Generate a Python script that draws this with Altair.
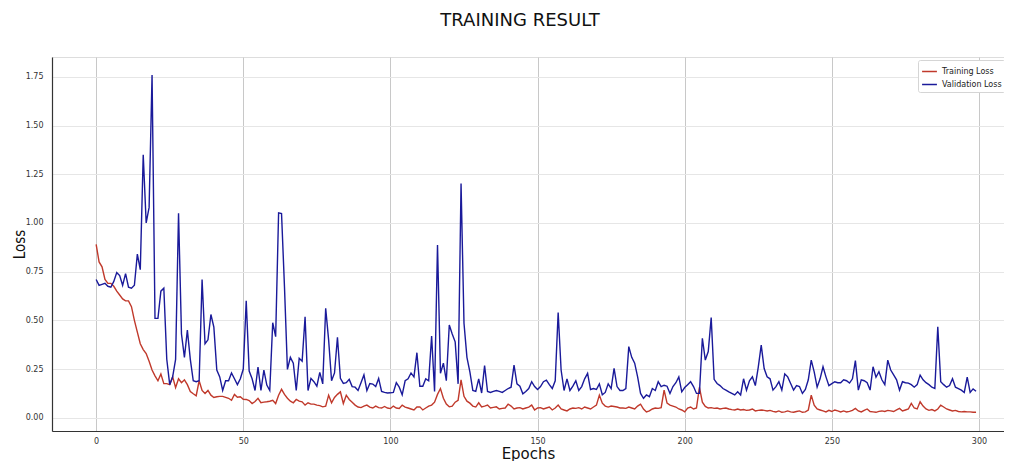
import altair as alt
import pandas as pd

epochs = list(range(300))

train_loss = [
    0.89, 0.80, 0.775, 0.71, 0.69, 0.69, 0.675, 0.65, 0.63, 0.61,
    0.60, 0.60, 0.57, 0.50, 0.44, 0.38, 0.35, 0.33, 0.29, 0.245,
    0.215, 0.19, 0.225, 0.175, 0.175, 0.17, 0.21, 0.155, 0.20, 0.18,
    0.195, 0.17, 0.135, 0.123, 0.113, 0.19, 0.14, 0.125, 0.14, 0.116,
    0.104, 0.108, 0.11, 0.11, 0.105, 0.10, 0.09, 0.12, 0.105, 0.108,
    0.095, 0.094, 0.088, 0.073, 0.083, 0.10, 0.077, 0.08, 0.082, 0.085,
    0.09, 0.073, 0.116, 0.146, 0.12, 0.10, 0.085, 0.077, 0.094, 0.085,
    0.082, 0.065, 0.077, 0.07, 0.07, 0.065, 0.062, 0.056, 0.06, 0.116,
    0.077, 0.104, 0.12, 0.133, 0.073, 0.116, 0.094, 0.08, 0.065, 0.055,
    0.052, 0.06, 0.065, 0.055, 0.05, 0.06, 0.052, 0.05, 0.058, 0.05,
    0.047, 0.06, 0.05, 0.048, 0.065, 0.055, 0.05, 0.045, 0.04, 0.055,
    0.056, 0.04, 0.05, 0.06, 0.065, 0.08, 0.12, 0.15, 0.10, 0.07,
    0.056, 0.06, 0.08, 0.09, 0.194, 0.11, 0.085, 0.075, 0.06, 0.055,
    0.077, 0.056, 0.06, 0.065, 0.05, 0.053, 0.056, 0.045, 0.048, 0.05,
    0.07, 0.06, 0.045, 0.05, 0.052, 0.045, 0.05, 0.055, 0.065, 0.04,
    0.05, 0.052, 0.045, 0.05, 0.055, 0.04, 0.05, 0.065, 0.045, 0.04,
    0.035, 0.045, 0.05, 0.048, 0.052, 0.045, 0.055, 0.05, 0.045, 0.055,
    0.065, 0.116, 0.075, 0.06, 0.055, 0.06, 0.058, 0.055, 0.05, 0.05,
    0.048, 0.055, 0.05, 0.045, 0.06, 0.07, 0.045, 0.03, 0.035, 0.045,
    0.05, 0.048, 0.052, 0.142, 0.075, 0.065, 0.06, 0.055, 0.045, 0.04,
    0.03, 0.05, 0.055, 0.045, 0.05, 0.156, 0.08, 0.058, 0.05, 0.052,
    0.048, 0.05, 0.045, 0.048, 0.05, 0.045, 0.042, 0.04, 0.045, 0.04,
    0.042, 0.038, 0.04, 0.045, 0.035, 0.038, 0.04, 0.038, 0.035, 0.038,
    0.033, 0.03, 0.035, 0.028, 0.03, 0.035, 0.03, 0.028, 0.032, 0.035,
    0.028, 0.03, 0.04, 0.116, 0.065, 0.045, 0.04, 0.035, 0.03, 0.038,
    0.032, 0.04, 0.035, 0.03, 0.035, 0.03, 0.033, 0.038, 0.048, 0.035,
    0.03, 0.038, 0.045, 0.032, 0.03, 0.028, 0.033, 0.035, 0.032, 0.038,
    0.035, 0.032, 0.04, 0.048, 0.035, 0.04, 0.045, 0.074, 0.05, 0.045,
    0.082, 0.06, 0.045, 0.038, 0.042, 0.035, 0.045, 0.065, 0.055, 0.045,
    0.04, 0.035, 0.038, 0.032, 0.03, 0.032, 0.03, 0.03, 0.028, 0.028,
]

val_loss = [
    0.71, 0.68, 0.685, 0.69, 0.675, 0.67, 0.70, 0.745, 0.73, 0.68,
    0.74, 0.67, 0.665, 0.68, 0.84, 0.76, 1.35, 1.00, 1.08, 1.76,
    0.51, 0.51, 0.65, 0.665, 0.30, 0.17, 0.21, 0.30, 1.05, 0.43,
    0.31, 0.45, 0.30, 0.19, 0.185, 0.19, 0.71, 0.38, 0.40, 0.53,
    0.465, 0.245, 0.21, 0.14, 0.19, 0.19, 0.23, 0.20, 0.17, 0.20,
    0.25, 0.60, 0.24, 0.20, 0.14, 0.26, 0.14, 0.245, 0.168, 0.14,
    0.488, 0.416, 1.052, 1.048, 0.672, 0.248, 0.31, 0.28, 0.14, 0.305,
    0.29, 0.518, 0.14, 0.202, 0.185, 0.162, 0.233, 0.174, 0.562, 0.40,
    0.19, 0.23, 0.413, 0.202, 0.176, 0.18, 0.197, 0.16, 0.157, 0.14,
    0.18, 0.22, 0.14, 0.176, 0.173, 0.16, 0.202, 0.135, 0.13, 0.127,
    0.128, 0.13, 0.18, 0.157, 0.118, 0.19, 0.20, 0.23, 0.21, 0.334,
    0.162, 0.162, 0.20, 0.19, 0.42, 0.135, 0.887, 0.228, 0.28, 0.19,
    0.476, 0.43, 0.39, 0.174, 1.203, 0.485, 0.31, 0.236, 0.14, 0.135,
    0.20, 0.127, 0.268, 0.135, 0.13, 0.135, 0.14, 0.135, 0.13, 0.14,
    0.15, 0.157, 0.27, 0.174, 0.162, 0.123, 0.135, 0.15, 0.185, 0.16,
    0.145, 0.16, 0.185, 0.193, 0.17, 0.15, 0.19, 0.54, 0.245, 0.14,
    0.20, 0.14, 0.162, 0.19, 0.14, 0.16, 0.20, 0.228, 0.145, 0.15,
    0.145, 0.174, 0.118, 0.13, 0.174, 0.15, 0.253, 0.16, 0.14, 0.14,
    0.15, 0.365, 0.31, 0.28, 0.21, 0.125, 0.10, 0.117, 0.108, 0.15,
    0.14, 0.185, 0.16, 0.167, 0.162, 0.125, 0.16, 0.18, 0.21, 0.133,
    0.155, 0.17, 0.185, 0.16, 0.125, 0.125, 0.408, 0.296, 0.34, 0.515,
    0.197, 0.176, 0.165, 0.15, 0.142, 0.133, 0.125, 0.117, 0.133, 0.117,
    0.20, 0.142, 0.19, 0.21, 0.165, 0.26, 0.373, 0.253, 0.21, 0.20,
    0.142, 0.16, 0.185, 0.142, 0.225, 0.21, 0.176, 0.142, 0.165, 0.16,
    0.125, 0.145, 0.195, 0.296, 0.236, 0.157, 0.20, 0.262, 0.21, 0.165,
    0.175, 0.185, 0.18, 0.18, 0.195, 0.19, 0.178, 0.20, 0.293, 0.142,
    0.195, 0.19, 0.18, 0.142, 0.262, 0.208, 0.236, 0.195, 0.17, 0.296,
    0.245, 0.22, 0.195, 0.142, 0.185, 0.18, 0.178, 0.17, 0.157, 0.17,
    0.219, 0.195, 0.18, 0.17, 0.157, 0.15, 0.467, 0.185, 0.17, 0.157,
    0.165, 0.20, 0.157, 0.15, 0.142, 0.13, 0.208, 0.13, 0.148, 0.136,
]

series_names = ["Training Loss", "Validation Loss"]
series_colors = ["#c0392b", "#1a1a9a"]
x_ticks = [0, 50, 100, 150, 200, 250, 300]
y_ticks = [0.0, 0.25, 0.5, 0.75, 1.0, 1.25, 1.5, 1.75]

df = pd.concat([
    pd.DataFrame({"Epoch": epochs, "Loss": train_loss, "Series": series_names[0], "order": 0}),
    pd.DataFrame({"Epoch": epochs, "Loss": val_loss, "Series": series_names[1], "order": 1}),
])

lines = alt.Chart(df).mark_line(strokeWidth=1.4).encode(
    x=alt.X("Epoch:Q",
            scale=alt.Scale(domain=[-15, 308.5], nice=False, zero=False),
            axis=alt.Axis(values=x_ticks, format="d", title="Epochs",
                          grid=True, gridColor="#c8c8c8", gridWidth=1,
                          tickSize=0, labelPadding=6, labelFontSize=8,
                          labelColor="#333333", labelFont="DejaVu Sans",
                          titleFont="DejaVu Sans", titleFontSize=15,
                          titleFontWeight="normal", titleColor="#111111",
                          titlePadding=1, domainColor="#333333", domainWidth=1.2)),
    y=alt.Y("Loss:Q",
            scale=alt.Scale(domain=[-0.068, 1.852], nice=False, zero=False),
            axis=alt.Axis(values=y_ticks, format=".2f", title="Loss",
                          grid=True, gridColor="#e6e6e6", gridWidth=1,
                          tickSize=0, labelPadding=9, labelFontSize=8,
                          labelColor="#333333", labelFont="DejaVu Sans",
                          titleFont="DejaVu Sans Condensed, Liberation Sans, sans-serif",
                          titleFontSize=15, titleAngle=270,
                          titleX=-40, titleY=187, titleAlign="center",
                          titleBaseline="top",
                          titleFontWeight="normal", titleColor="#111111",
                          domainColor="#333333", domainWidth=1.2)),
    color=alt.Color("Series:N",
                    scale=alt.Scale(domain=series_names, range=series_colors),
                    legend=alt.Legend(title=None, orient="none", legendX=866, legendY=3,
                                      symbolType="stroke", symbolStrokeWidth=1.5,
                                      symbolSize=220, labelFontSize=8, labelFont="DejaVu Sans",
                                      labelColor="#222222", rowPadding=0,
                                      strokeColor="#d5d5d5", fillColor="#ffffff",
                                      padding=3, cornerRadius=2, labelOffset=4)),
    order="order:Q",
    detail="Series:N",
)

chart = lines.properties(
    width=952,
    height=374,
    autosize="none",
    padding={"left": 44, "top": 49, "right": 0, "bottom": 30},
    title=alt.TitleParams("TRAINING RESULT", font="DejaVu Sans", fontSize=18,
                          fontWeight="normal", color="#111111", anchor="middle",
                          offset=27, dx=-8),
).configure_view(stroke="#e0e0e0", strokeWidth=1).configure(background="white")

chart.save("out.html", embed_options={"renderer": "svg", "actions": False})
